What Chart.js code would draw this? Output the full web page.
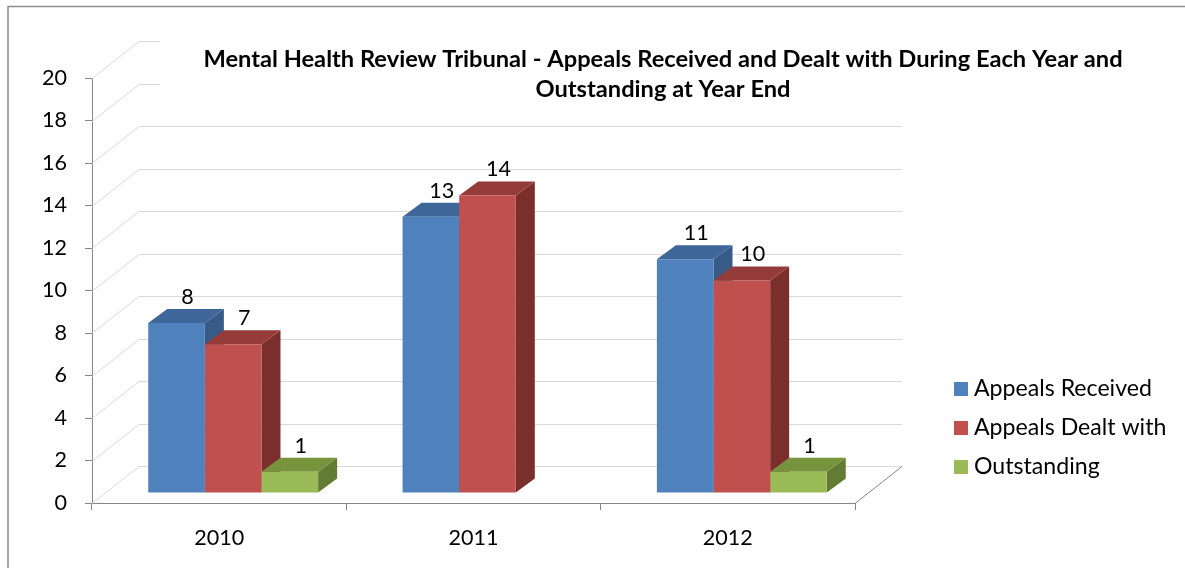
<!DOCTYPE html>
<html><head><meta charset="utf-8">
<script src="https://cdn.jsdelivr.net/npm/chart.js@4/dist/chart.umd.min.js"></script>
<style>html,body{margin:0;padding:0;background:#fff;overflow:hidden}canvas{display:block}</style>
</head><body>
<canvas id="c" width="1185" height="568"></canvas>
<script>
// ---- data ----
const categories = ['2010', '2011', '2012'];
const appealsReceived = [8, 13, 11];
const appealsDealtWith = [7, 14, 10];
const outstanding = [1, null, 1];
const seriesNames = ['Appeals Received', 'Appeals Dealt with', 'Outstanding'];
const yMin = 0, yMax = 20, yStep = 2;
const titleLines = ['Mental Health Review Tribunal - Appeals Received and Dealt with During Each Year and', 'Outstanding at Year End'];

// ---- styles ----
const frontColors = ['#4F81BD', '#C0504D', '#9BBB59'];
const topColors = ['#3E6699', '#953B39', '#77933C'];
const sideColors = ['#375A87', '#7B2F2D', '#637C33'];
const FAMILY = "Lato, 'Open Sans', sans-serif";

function fit(text, w, weight) {
  const c = document.createElement('canvas').getContext('2d');
  c.font = weight + ' 100px ' + FAMILY;
  return 100 * w / c.measureText(text).width;
}
const tickSize = fit('2010', 50, 'normal');
const legendSize = fit('Appeals Received', 178, 'normal');
const titleSize = fit(titleLines[0], 920, 'bold');

const DX = 47, DY = -37;   // wall depth
const BX = 14, BY = -10;   // bar offset into depth
const SX = 19, SY = -14;   // bar depth

const plugin3d = {
  id: 'p3d',
  beforeDatasetsDraw(chart) {
    const { ctx, chartArea: a, scales: { y } } = chart;
    ctx.save();
    ctx.lineWidth = 1;
    ctx.strokeStyle = '#D9D9D9';
    for (let v = yMin; v <= yMax; v += yStep) {
      const yy = Math.round(y.getPixelForValue(v)) + 0.5;
      ctx.beginPath();
      ctx.moveTo(a.left, yy);
      ctx.lineTo(a.left + DX, yy + DY);
      ctx.lineTo(a.right + DX, yy + DY);
      ctx.stroke();
    }
    ctx.strokeStyle = '#868686';
    ctx.beginPath();
    ctx.moveTo(a.right, Math.round(a.bottom) + 0.5);
    ctx.lineTo(a.right + DX, Math.round(a.bottom) + 0.5 + DY);
    ctx.stroke();
    ctx.fillStyle = '#fff';
    ctx.fillRect(160, 30, 800, 76);
    ctx.restore();

    ctx.save();
    ctx.translate(BX, BY);
    chart.data.labels.forEach((_, i) => {
      chart.data.datasets.forEach((ds, d) => {
        if (ds.data[i] == null) return;
        const el = chart.getDatasetMeta(d).data[i];
        const { x, y: t, base, width } = el.getProps(['x', 'y', 'base', 'width'], true);
        const l = x - width / 2, r = x + width / 2;
        ctx.fillStyle = sideColors[d];
        ctx.beginPath();
        ctx.moveTo(r, t); ctx.lineTo(r + SX, t + SY); ctx.lineTo(r + SX, base + SY); ctx.lineTo(r, base);
        ctx.closePath(); ctx.fill();
        ctx.fillStyle = topColors[d];
        ctx.beginPath();
        ctx.moveTo(l, t); ctx.lineTo(r, t); ctx.lineTo(r + SX, t + SY); ctx.lineTo(l + SX, t + SY);
        ctx.closePath(); ctx.fill();
      });
    });
  },
  afterDatasetsDraw(chart) {
    const { ctx } = chart;
    ctx.fillStyle = '#000';
    ctx.font = tickSize + 'px ' + FAMILY;
    ctx.textAlign = 'center';
    ctx.textBaseline = 'middle';
    chart.data.datasets.forEach((ds, d) => {
      chart.getDatasetMeta(d).data.forEach((el, i) => {
        if (ds.data[i] == null) return;
        const { x, y: t } = el.getProps(['x', 'y'], true);
        ctx.fillText(String(ds.data[i]), x + 11, t + SY - 12);
      });
    });
    ctx.restore();
  },
  afterDraw(chart) {
    const { ctx } = chart;
    ctx.save();
    // outer frame
    ctx.strokeStyle = '#8C8C8C';
    ctx.lineWidth = 1.5;
    ctx.strokeRect(8, 6.5, 1300, 700);
    // title
    ctx.fillStyle = '#000';
    ctx.font = 'bold ' + titleSize + 'px ' + FAMILY;
    ctx.textAlign = 'center';
    ctx.textBaseline = 'alphabetic';
    ctx.fillText(titleLines[0], 663, 67);
    ctx.fillText(titleLines[1], 663, 97);
    // legend
    ctx.font = legendSize + 'px ' + FAMILY;
    ctx.textAlign = 'left';
    ctx.textBaseline = 'middle';
    const centers = [389, 428, 467];
    seriesNames.forEach((n, k) => {
      ctx.fillStyle = frontColors[k];
      ctx.fillRect(954, centers[k] - 7, 14, 14);
      ctx.fillStyle = '#000';
      ctx.fillText(n, 974, centers[k]);
    });
    ctx.restore();
  }
};

const seriesData = [appealsReceived, appealsDealtWith, outstanding];
const tickFont = { family: FAMILY, size: tickSize };

new Chart(document.getElementById('c'), {
  type: 'bar',
  data: {
    labels: categories,
    datasets: seriesData.map((arr, k) => ({
      label: seriesNames[k],
      data: arr,
      backgroundColor: frontColors[k],
      borderWidth: 0,
      categoryPercentage: 0.668,
      barPercentage: 1,
      clip: false
    }))
  },
  options: {
    responsive: false,
    animation: false,
    events: [],
    layout: { padding: { left: 10, top: 78, right: 330, bottom: 0 } },
    plugins: { legend: { display: false }, title: { display: false }, tooltip: { enabled: false } },
    scales: {
      x: {
        grid: { offset: true, drawOnChartArea: false, tickLength: 7, color: '#868686' },
        border: { color: '#868686' },
        ticks: { font: tickFont, color: '#000', padding: 15 },
        afterFit(s) { s.height = 65; }
      },
      y: {
        min: yMin, max: yMax,
        ticks: { stepSize: yStep, font: tickFont, color: '#000', padding: 18 },
        grid: { drawOnChartArea: false, tickLength: 7, color: '#868686' },
        border: { color: '#868686' },
        afterFit(s) { s.width = 82; }
      }
    }
  },
  plugins: [plugin3d]
});
</script>
</body></html>
